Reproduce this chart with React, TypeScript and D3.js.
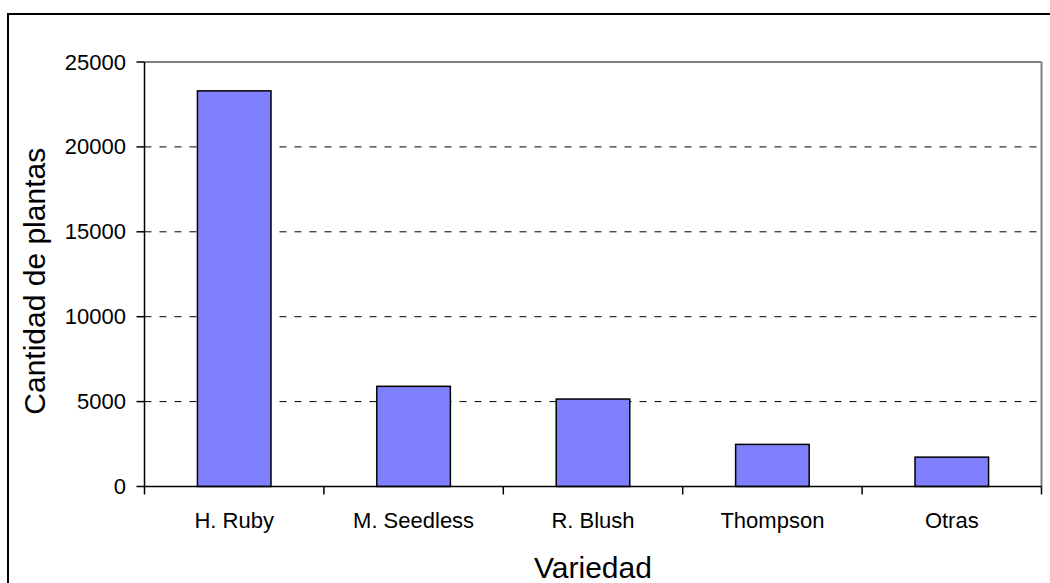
import React from 'react';
import * as d3 from 'd3';

const categories: string[] = ['H. Ruby', 'M. Seedless', 'R. Blush', 'Thompson', 'Otras'];
const plantCounts: number[] = [23300, 5900, 5150, 2480, 1730];
const yTicks: number[] = [0, 5000, 10000, 15000, 20000, 25000];

const App: React.FC = () => {
  const width = 1050;
  const height = 583;
  const left = 144.5;
  const right = 1041.5;
  const top = 62;
  const bottom = 486.5;

  const x = d3.scaleBand<string>().domain(categories).range([left, right]).padding(0);
  const y = d3.scaleLinear().domain([0, 25000]).range([bottom, top]);
  const barW = x.bandwidth() * 0.41;
  const font = 'Arial, "Liberation Sans", sans-serif';

  return (
    <svg
      width={width}
      height={height}
      style={{ position: 'absolute', left: 0, top: 0, background: '#fff' }}
      fontFamily={font}
    >
      {/* outer frame, runs off the right and bottom edges */}
      <rect x={8} y={14} width={1100} height={700} fill="none" stroke="#000" strokeWidth={2} />

      {/* plot frame */}
      <line x1={left} x2={right} y1={top} y2={top} stroke="#808080" strokeWidth={2} />
      <line x1={right} x2={right} y1={top} y2={bottom} stroke="#808080" strokeWidth={2} />

      {/* gridlines */}
      {yTicks.filter(t => t > 0 && t < 25000).map(t => (
        <line key={t} x1={left} x2={right} y1={y(t)} y2={y(t)}
          stroke="#000" strokeWidth={1} strokeDasharray="7,8" />
      ))}

      {/* bars */}
      {categories.map((c, i) => (
        <rect key={c}
          x={(x(c) ?? 0) + (x.bandwidth() - barW) / 2}
          y={y(plantCounts[i])}
          width={barW}
          height={y(0) - y(plantCounts[i])}
          fill="#8080FF" stroke="#000" strokeWidth={1.5} />
      ))}

      {/* axes */}
      <line x1={left} x2={left} y1={top} y2={bottom} stroke="#000" strokeWidth={1.5} />
      <line x1={left} x2={right} y1={bottom} y2={bottom} stroke="#000" strokeWidth={1.5} />
      {yTicks.map(t => (
        <g key={t}>
          <line x1={left - 8} x2={left} y1={y(t)} y2={y(t)} stroke="#000" strokeWidth={1.5} />
          <text x={126} y={y(t) + 7.5} textAnchor="end" fontSize={22} fill="#000">{t}</text>
        </g>
      ))}
      {[...categories.map(c => x(c) ?? 0), right].map((px, i) => (
        <line key={i} x1={px} x2={px} y1={bottom} y2={bottom + 8} stroke="#000" strokeWidth={1.5} />
      ))}
      {categories.map(c => (
        <text key={c} x={(x(c) ?? 0) + x.bandwidth() / 2} y={527.5}
          textAnchor="middle" fontSize={22} fill="#000">{c}</text>
      ))}

      {/* axis titles */}
      <text x={(left + right) / 2} y={578} textAnchor="middle" fontSize={30} fill="#000">Variedad</text>
      <text transform={`translate(45, ${(top + bottom) / 2 + 7}) rotate(-90)`}
        textAnchor="middle" fontSize={30} fill="#000">Cantidad de plantas</text>
    </svg>
  );
};

export default App;
